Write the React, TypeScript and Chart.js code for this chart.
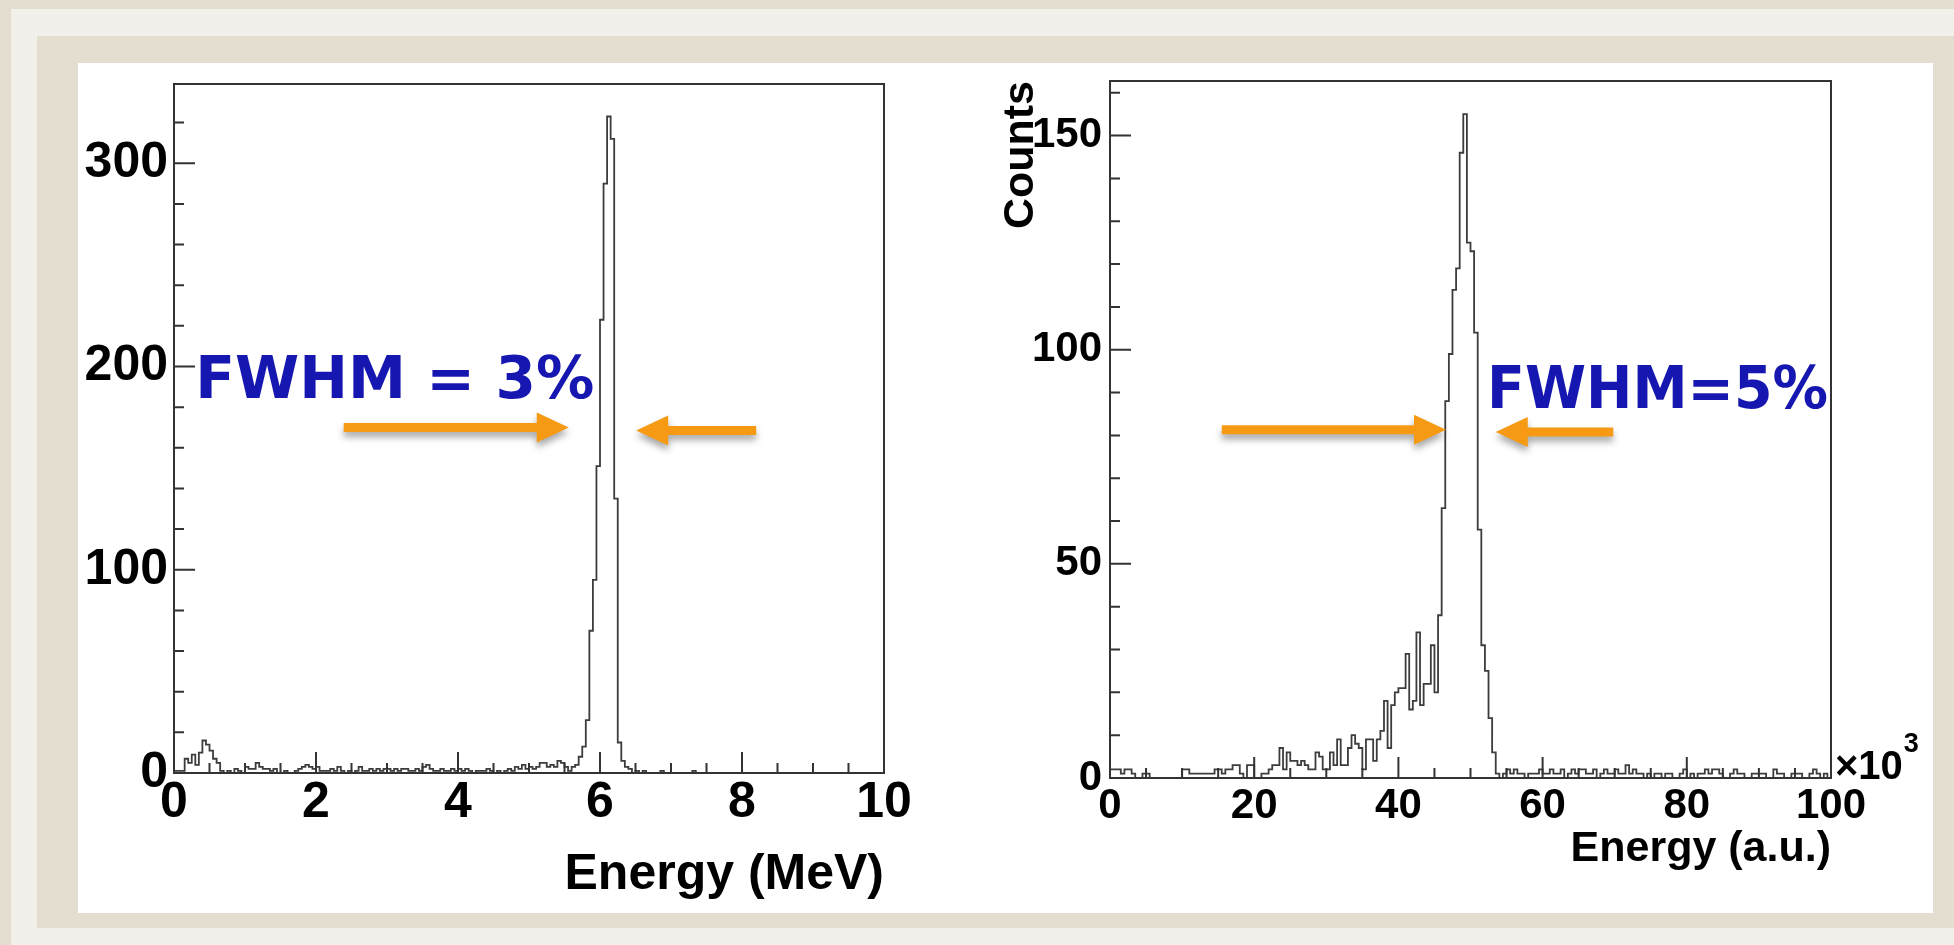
import React, { useEffect, useRef } from 'react';
import { Chart, registerables } from 'chart.js';

Chart.register(...registerables);

// ---------- data ----------
// Left spectrum: 200 bins of 0.05 MeV over 0..10 MeV
const LEFT_BIN_WIDTH = 0.05;
const LEFT_COUNTS = [
  1, 1, 1, 7, 5, 9, 4, 10, 16, 14, 11, 7, 5, 1,
  0, 1, 0, 2, 1, 0, 3, 2, 2, 5, 3, 2, 2, 1, 2, 0, 0, 1, 0, 0, 1, 2, 3, 4, 3, 2,
  3, 1, 1, 1, 2, 1, 3, 1, 0, 1, 0, 1, 3, 1, 1, 2, 1, 2, 1, 2, 2, 1, 2, 1, 2, 2, 1, 1, 2, 1,
  3, 4, 2, 1, 1, 2, 1, 1, 2, 1, 2, 1, 2, 1, 0, 1, 1, 1, 2, 1, 0, 1, 0, 1, 2, 1, 3, 2, 4, 2,
  3, 2, 3, 5, 5, 3, 4, 3, 6, 5, 3, 1, 3, 4, 8, 13, 26, 70, 95, 151,
  223, 290, 323, 312, 135, 15, 6, 3, 2, 0, 1, 0, 1, 0, 0, 0, 0, 1, 0, 0,
  0, 0, 0, 0, 0, 0, 1, 0, 0, 0, 0, 0, 0, 0, 0, 0, 0, 0, 0, 0,
  0, 0, 0, 0, 0, 0, 0, 0, 0, 0, 0, 0, 0, 0, 0, 0, 0, 0, 0, 0,
  0, 0, 0, 0, 0, 0, 0, 0, 0, 0, 0, 0, 0, 0, 0, 0, 0, 0, 0, 0,
];
// Right spectrum: 200 bins of 0.5 (x10^3 a.u.) over 0..100
const RIGHT_BIN_WIDTH = 0.5;
const RIGHT_COUNTS = [
  2, 2, 2, 1, 2, 2, 1, 0, 0, 1, 1, 0, 0, 0, 0, 0, 0, 0, 0, 0,
  2, 2, 1, 1, 1, 1, 1, 1, 1, 2, 2, 1, 2, 2, 3, 3, 1, 0, 3, 3,
  0, 0, 1, 1, 2, 3, 3, 7, 2, 6, 4, 4, 3, 4, 3, 2, 2, 6, 5, 2,
  2, 6, 3, 9, 3, 3, 7, 10, 8, 7, 2, 9, 9, 4, 9, 11, 18, 7, 17, 20,
  21, 21, 29, 16, 18, 34, 17, 22, 22, 31, 20, 38, 63, 88, 99, 114, 119, 146, 155, 125,
  123, 104, 58, 31, 25, 14, 6, 1, 0, 1, 2, 1, 2, 1, 1, 0, 1, 1, 1, 2,
  1, 1, 2, 1, 1, 2, 0, 1, 2, 1, 2, 2, 1, 1, 2, 0, 1, 2, 1, 1,
  2, 1, 1, 3, 1, 2, 1, 1, 0, 1, 0, 1, 1, 0, 1, 1, 0, 0, 1, 2,
  0, 1, 0, 1, 1, 2, 1, 2, 2, 1, 0, 0, 1, 2, 1, 1, 0, 0, 1, 1,
  1, 1, 0, 0, 2, 1, 1, 0, 0, 1, 1, 1, 0, 0, 1, 2, 1, 0, 1, 0,
];

const LEFT_X_RANGE = [0, 10];
const LEFT_Y_RANGE = [0, 339];
const LEFT_X_TICKS = { major: 2, minor: 0.5 };
const LEFT_Y_TICKS = { major: 100, minor: 20 };
const LEFT_X_TITLE = 'Energy (MeV)';

const RIGHT_X_RANGE = [0, 100];
const RIGHT_Y_RANGE = [0, 162.75];
const RIGHT_X_TICKS = { major: 20, minor: 5 };
const RIGHT_Y_TICKS = { major: 50, minor: 10 };
const RIGHT_X_TITLE = 'Energy (a.u.)';
const RIGHT_Y_TITLE = 'Counts';
const RIGHT_X_EXPONENT = '3';

// annotations (data units)
const LEFT_LABEL = { text: 'FWHM = 3%', x0: 0.3, x1: 5.92, y: 184.5 };
const LEFT_ARROWS = [
  { from: 2.39, to: 5.56, y: 170 },
  { from: 8.2, to: 6.51, y: 168.5 },
];
const RIGHT_LABEL = { text: 'FWHM=5%', x0: 52.3, x1: 99.6, y: 86.5 };
const RIGHT_ARROWS = [
  { from: 15.5, to: 46.6, y: 81.3 },
  { from: 69.8, to: 53.5, y: 80.8 },
];

// ---------- styling ----------
const SANS = "'Liberation Sans', Arial, Helvetica, sans-serif";
const LABEL_FONT = "'DejaVu Sans', 'Noto Sans', sans-serif";
const LINE = '#333333';
const HIST_LINE = '#3c3c3c';
const ORANGE = '#F79A13';
const BLUE = '#1616B0';
const BEIGE = '#E3DED0';
const LIGHT = '#F2F0EA';

function histPoints(counts: number[], w: number) {
  const pts = counts.map((c, i) => ({ x: i * w, y: c }));
  pts.push({ x: counts.length * w, y: counts[counts.length - 1] });
  return pts;
}

function drawArrow(ctx: CanvasRenderingContext2D, x0: number, x1: number, y: number) {
  const shaft = 9;
  const headLen = 32;
  const headHalf = 15;
  const dir = Math.sign(x1 - x0);
  const hb = x1 - dir * headLen;
  ctx.beginPath();
  ctx.moveTo(x0, y - shaft / 2);
  ctx.lineTo(hb, y - shaft / 2);
  ctx.lineTo(hb, y - headHalf);
  ctx.lineTo(x1, y);
  ctx.lineTo(hb, y + headHalf);
  ctx.lineTo(hb, y + shaft / 2);
  ctx.lineTo(x0, y + shaft / 2);
  ctx.closePath();
  ctx.fill();
}

const decorPlugin = {
  id: 'rootDecor',
  afterDatasetsDraw(chart: any, _args: any, opts: any) {
    const { ctx, chartArea: a, scales } = chart;
    const xs = scales.x;
    const ys = scales.y;
    ctx.save();
    // inward ticks
    ctx.strokeStyle = LINE;
    ctx.lineWidth = 2;
    ctx.beginPath();
    const nx = Math.round((xs.max - xs.min) / opts.xt.minor);
    for (let i = 0; i <= nx; i++) {
      const v = xs.min + i * opts.xt.minor;
      const r = v / opts.xt.major;
      const major = Math.abs(r - Math.round(r)) < 1e-6;
      const px = xs.getPixelForValue(v);
      ctx.moveTo(px, a.bottom);
      ctx.lineTo(px, a.bottom - (major ? opts.majorLen : opts.minorLen));
    }
    const ny = Math.floor((ys.max - ys.min) / opts.yt.minor + 1e-6);
    for (let i = 0; i <= ny; i++) {
      const v = ys.min + i * opts.yt.minor;
      const r = v / opts.yt.major;
      const major = Math.abs(r - Math.round(r)) < 1e-6;
      const py = ys.getPixelForValue(v);
      ctx.moveTo(a.left, py);
      ctx.lineTo(a.left + (major ? opts.majorLen : opts.minorLen), py);
    }
    ctx.stroke();
    // frame
    ctx.strokeRect(a.left, a.top, a.right - a.left, a.bottom - a.top);

    // exponent
    if (opts.exponent) {
      ctx.fillStyle = '#000';
      ctx.textBaseline = 'alphabetic';
      ctx.textAlign = 'left';
      ctx.font = `bold 40px ${SANS}`;
      const bx = a.right + 4;
      const by = a.bottom + 1;
      ctx.fillText('×10', bx, by);
      const w = ctx.measureText('×10').width;
      ctx.font = `bold 27px ${SANS}`;
      ctx.fillText(opts.exponent, bx + w + 1, by - 27);
    }

    // arrows
    ctx.fillStyle = ORANGE;
    ctx.shadowColor = 'rgba(0,0,0,0.35)';
    ctx.shadowBlur = 7;
    ctx.shadowOffsetY = 5;
    for (const ar of opts.arrows) {
      drawArrow(ctx, xs.getPixelForValue(ar.from), xs.getPixelForValue(ar.to), ys.getPixelForValue(ar.y));
    }
    ctx.shadowColor = 'transparent';

    // label
    const lb = opts.label;
    const px0 = xs.getPixelForValue(lb.x0);
    const px1 = xs.getPixelForValue(lb.x1);
    const py = ys.getPixelForValue(lb.y);
    ctx.font = `bold ${opts.labelSize}px ${LABEL_FONT}`;
    ctx.textAlign = 'left';
    ctx.textBaseline = 'alphabetic';
    const mw = ctx.measureText(lb.text).width;
    ctx.translate(px0, py);
    ctx.scale((px1 - px0) / mw, 1);
    ctx.fillStyle = BLUE;
    ctx.fillText(lb.text, 0, 0);
    ctx.restore();
  },
};

function makeConfig(p: any) {
  return {
    type: 'line',
    data: {
      datasets: [
        {
          data: histPoints(p.counts, p.binWidth),
          borderColor: HIST_LINE,
          borderWidth: 1.8,
          pointRadius: 0,
          stepped: true,
          fill: false,
        },
      ],
    },
    plugins: [decorPlugin],
    options: {
      responsive: false,
      animation: false,
      events: [],
      layout: { padding: p.padding },
      plugins: {
        legend: { display: false },
        tooltip: { enabled: false },
        rootDecor: {
          xt: p.xt,
          yt: p.yt,
          majorLen: 21,
          minorLen: 10,
          arrows: p.arrows,
          label: p.label,
          labelSize: p.labelSize,
          exponent: p.exponent,
        },
      },
      scales: {
        x: {
          type: 'linear',
          min: p.xRange[0],
          max: p.xRange[1],
          grid: { display: false, drawTicks: false },
          border: { display: false },
          afterFit: (s: any) => {
            s.height = p.xHeight;
          },
          ticks: {
            stepSize: p.xt.major,
            includeBounds: false,
            autoSkip: false,
            maxRotation: 0,
            padding: p.xPad,
            color: '#000',
            font: { family: SANS, size: p.tickSize, weight: 'bold', lineHeight: 1 },
          },
          title: {
            display: true,
            text: p.xTitle,
            align: 'end',
            color: '#000',
            padding: 0,
            font: { family: SANS, size: p.titleSize, weight: 'bold', lineHeight: 1 },
          },
        },
        y: {
          type: 'linear',
          min: p.yRange[0],
          max: p.yRange[1],
          grid: { display: false, drawTicks: false },
          border: { display: false },
          afterFit: (s: any) => {
            s.width = p.yWidth;
          },
          ticks: {
            stepSize: p.yt.major,
            includeBounds: false,
            autoSkip: false,
            padding: p.yPad,
            color: '#000',
            font: { family: SANS, size: p.yTickSize, weight: 'bold', lineHeight: 1 },
          },
          title: {
            display: !!p.yTitle,
            text: p.yTitle || '',
            align: 'end',
            color: '#000',
            padding: 0,
            font: { family: SANS, size: p.titleSize, weight: 'bold', lineHeight: 1 },
          },
        },
      },
    },
  };
}

function HistChart(props: { cfg: any; left: number; top: number; width: number; height: number }) {
  const ref = useRef<HTMLCanvasElement | null>(null);
  useEffect(() => {
    if (!ref.current) return;
    const chart = new Chart(ref.current, props.cfg as any);
    return () => chart.destroy();
  }, []);
  return (
    <canvas
      ref={ref}
      width={props.width}
      height={props.height}
      style={{ position: 'absolute', left: props.left, top: props.top, width: props.width, height: props.height }}
    />
  );
}

// Left: chart area target page (174..884, 84..773); canvas at (78,53) 922x860
const leftCfg = makeConfig({
  counts: LEFT_COUNTS,
  binWidth: LEFT_BIN_WIDTH,
  xRange: LEFT_X_RANGE,
  yRange: LEFT_Y_RANGE,
  xt: LEFT_X_TICKS,
  yt: LEFT_Y_TICKS,
  xTitle: LEFT_X_TITLE,
  yTitle: null,
  padding: { left: 0, right: 116, top: 0, bottom: 13 },
  xHeight: 127,
  yWidth: 96,
  xPad: 5,
  yPad: 6,
  tickSize: 50,
  yTickSize: 50,
  titleSize: 50,
  arrows: LEFT_ARROWS,
  label: LEFT_LABEL,
  labelSize: 58,
  exponent: null,
});

// Right: chart area target page (1110..1831, 81..778); canvas at (1000,52) 933x861
const rightCfg = makeConfig({
  counts: RIGHT_COUNTS,
  binWidth: RIGHT_BIN_WIDTH,
  xRange: RIGHT_X_RANGE,
  yRange: RIGHT_Y_RANGE,
  xt: RIGHT_X_TICKS,
  yt: RIGHT_Y_TICKS,
  xTitle: RIGHT_X_TITLE,
  yTitle: RIGHT_Y_TITLE,
  padding: { left: 0, right: 102, top: 0, bottom: 42 },
  xHeight: 93,
  yWidth: 110,
  xPad: 7,
  yPad: 8,
  tickSize: 42,
  yTickSize: 42,
  titleSize: 43,
  arrows: RIGHT_ARROWS,
  label: RIGHT_LABEL,
  labelSize: 58,
  exponent: RIGHT_X_EXPONENT,
});

export default function App() {
  return (
    <div style={{ position: 'absolute', left: 0, top: 0, width: 1954, height: 945, background: BEIGE, overflow: 'hidden' }}>
      <div style={{ position: 'absolute', left: 11, top: 9, width: 1960, height: 960, background: LIGHT }} />
      <div style={{ position: 'absolute', left: 37, top: 36, width: 1940, height: 892, background: BEIGE }} />
      <div style={{ position: 'absolute', left: 78, top: 63, width: 1855, height: 850, background: '#FFFFFF' }} />
      <HistChart cfg={leftCfg} left={78} top={53} width={922} height={860} />
      <HistChart cfg={rightCfg} left={1000} top={52} width={933} height={861} />
    </div>
  );
}
